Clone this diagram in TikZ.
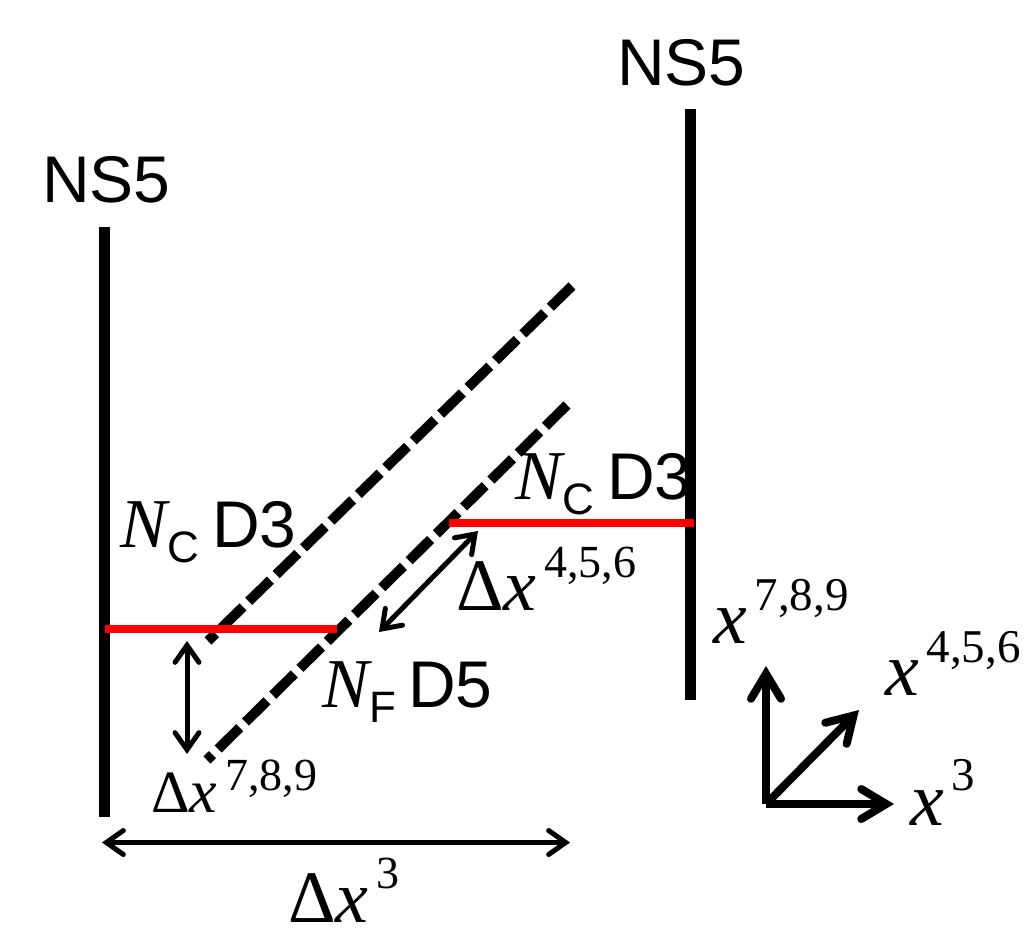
\documentclass[tikz,border=0pt]{standalone}
\usepackage{fontspec}
\usepackage{xcolor}
\setmainfont{Liberation Sans}
\newfontfamily\serifit[ItalicFont=Liberation Serif Italic]{Liberation Serif}
\usetikzlibrary{arrows.meta}
\definecolor{branered}{RGB}{255,0,0}
\newcommand{\Nit}[3]{\makebox[47pt][l]{\fontsize{70}{70}\selectfont\serifit\itshape N}\makebox[#3][l]{\fontsize{44}{44}\selectfont\raisebox{-15pt}{#1}}{\fontsize{66}{66}\selectfont #2}}
\newcommand{\Xit}[3]{{\fontsize{#1}{#1}\selectfont\serifit\itshape x}\kern8pt\raisebox{#2}{\fontsize{47}{47}\selectfont\serifit #3}}
\newcommand{\Dx}[4]{{\fontsize{#1}{#1}\selectfont\serifit Δ}{\fontsize{#2}{#2}\selectfont\serifit\itshape x}\kern8pt\raisebox{#3}{\fontsize{46}{46}\selectfont\serifit #4}}
\tikzset{
  lbl/.style={anchor=base west,inner sep=0pt,outer sep=0pt},
  ns/.style={line width=11pt,black},
  dthree/.style={line width=8pt,branered},
  dfive/.style={line width=10pt,black,dash pattern=on 30.3pt off 8pt},
  thinarrow/.style={line width=5pt,{Straight Barb[length=17pt,width=24pt,line cap=round,line width=5pt]}-{Straight Barb[length=17pt,width=24pt,line cap=round,line width=5pt]}},
  axisarrow/.style={line width=8pt,-{Straight Barb[length=25pt,width=30pt,line cap=round,line width=8pt]}}
}
\begin{document}
\begin{tikzpicture}[x=1pt,y=-1pt]
\useasboundingbox (0,0) rectangle (1033,940);
\coordinate (a1) at (104,227); \coordinate (a2) at (104,817);
\coordinate (b1) at (690,109); \coordinate (b2) at (690,700);
\draw[ns] (a1) -- (a2);
\draw[ns] (b1) -- (b2);
\coordinate (f1a) at (208,641); \coordinate (f1b) at (572,286);
\coordinate (f2a) at (207,760); \coordinate (f2b) at (567,405);
\draw[dfive] (f1b) -- (f1a);
\draw[dfive] (f2b) -- (f2a);
\coordinate (r1a) at (105,628.5); \coordinate (r1b) at (337,628.5);
\coordinate (r2a) at (449,522.5); \coordinate (r2b) at (694,522.5);
\draw[dthree] (r1a) -- (r1b);
\draw[dthree] (r2a) -- (r2b);
\coordinate (d7a) at (187,641); \coordinate (d7b) at (187,754);
\draw[thinarrow] (d7a) -- (d7b);
\coordinate (d4a) at (478,531); \coordinate (d4b) at (379,632);
\draw[thinarrow] (d4a) -- (d4b);
\coordinate (d3a) at (102,842.5); \coordinate (d3b) at (570,842.5);
\draw[thinarrow] (d3a) -- (d3b);
\coordinate (o) at (766,804);
\coordinate (ox) at (894,804); \coordinate (oy) at (766,666); \coordinate (oz) at (859,710);
\draw[axisarrow] (o) -- (oy);
\draw[axisarrow] (o) -- (ox);
\draw[axisarrow] (o) -- (oz);
\node[lbl] (ns1) at (42,202) {\fontsize{66}{66}\selectfont NS5};
\node[lbl] (ns2) at (617,85) {\fontsize{66}{66}\selectfont NS5};
\node[lbl] (nc1) at (120,547) {\Nit{C}{D3}{45pt}};
\node[lbl] (nc2) at (515,499) {\Nit{C}{D3}{45pt}};
\node[lbl] (nf) at (322,707) {\Nit{F}{D5}{39pt}};
\node[lbl] (dx7) at (151,812) {\Dx{60}{62}{22pt}{7,8,9}};
\node[lbl] (dx4) at (456,610) {\Dx{74}{74}{33pt}{4,5,6}};
\node[lbl] (dx3) at (288,922) {\Dx{74}{74}{34pt}{3}};
\node[lbl] (x7) at (713,643) {\Xit{76}{33pt}{7,8,9}};
\node[lbl] (x4) at (885,695) {\Xit{76}{33pt}{4,5,6}};
\node[lbl] (x3) at (910,825) {\Xit{76}{35pt}{3}};
\end{tikzpicture}
\end{document}
